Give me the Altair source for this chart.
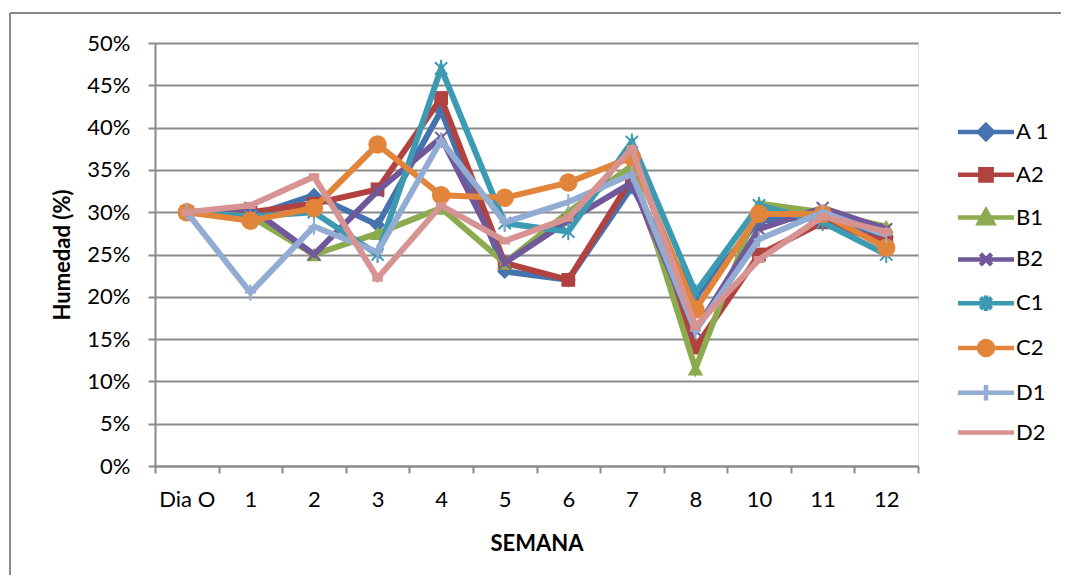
import altair as alt
import pandas as pd

semanas = ["Dia O", "1", "2", "3", "4", "5", "6", "7", "8", "10", "11", "12"]
series = ["A 1", "A2", "B1", "B2", "C1", "C2", "D1", "D2"]

a1 = [30, 29.5, 32, 28.5, 42, 23, 22, 33, 20, 29, 29.5, 27]
a2 = [30, 30, 31, 32.7, 43.5, 24, 22, 34, 14, 25, 28.8, 26.5]
b1 = [30, 29.5, 25, 27.5, 30.5, 24, 30, 35.5, 11.5, 31, 30, 28.3]
b2 = [30, 30.5, 25, 32.5, 38.8, 24, 29, 33.5, 16, 28, 30.5, 28]
c1 = [30, 29.5, 30, 25, 47, 28.7, 27.7, 38.3, 20.5, 30.8, 28.8, 25]
c2 = [30, 29, 30.5, 38, 32, 31.7, 33.5, 36.5, 18.5, 29.8, 29.8, 25.8]
d1 = [30, 20.5, 28.3, 25.3, 38.5, 28.8, 31.2, 34.5, 16, 26.8, 30, 27.3]
d2 = [30, 30.8, 34.2, 22.2, 30.8, 26.6, 29.3, 37.5, 16.5, 24.4, 29.5, 27.7]
valores = [a1, a2, b1, b2, c1, c2, d1, d2]

colores = ["#4573B0", "#B2423F", "#8BAB4E", "#71589A", "#3D9AB3", "#E2853A", "#93ACD4", "#D79391"]

rows = []
for s, vals in zip(series, valores):
    for w, v in zip(semanas, vals):
        rows.append({"semana": w, "serie": s, "valor": v / 100.0})
df = pd.DataFrame(rows)

FONT = "Lato"
GRAY = "#8A8A8A"

x_enc = alt.X(
    "semana:N",
    sort=semanas,
    scale=alt.Scale(type="band", domain=semanas, paddingInner=0, paddingOuter=0),
    axis=alt.Axis(
        title="SEMANA", labelAngle=0, grid=False, tickBand="extent",
        tickSize=7, tickColor=GRAY, tickWidth=2, domainColor=GRAY, domainWidth=2,
        labelFont=FONT, labelFontSize=22, labelColor="black", labelPadding=16,
        titleFont=FONT, titleFontSize=22, titleFontWeight="bold", titleColor="black",
        titleX=381.5, titleY=77, titleBaseline="middle", titleAlign="center",
    ),
)
y_enc = alt.Y(
    "valor:Q",
    scale=alt.Scale(domain=[0, 0.5], nice=False, zero=True),
    axis=alt.Axis(
        title="Humedad (%)", format=".0%", values=[i * 0.05 for i in range(11)],
        grid=True, gridColor=GRAY, gridWidth=2,
        tickSize=7, tickColor=GRAY, tickWidth=2, domainColor=GRAY, domainWidth=2,
        labelFont=FONT, labelFontSize=22, labelColor="black", labelPadding=18,
        titleFont=FONT, titleFontSize=22, titleFontWeight="bold", titleColor="black",
        titleX=-93, titleY=211.5, titleAngle=-90, titleBaseline="middle", titleAlign="center",
    ),
)

marker_specs = [
    dict(shape="diamond", size=230, filled=True, strokeWidth=1),
    dict(shape="square", size=190, filled=True, strokeWidth=1),
    dict(shape="triangle-up", size=240, filled=True, strokeWidth=1),
    dict(shape="M-1,-1L1,1M-1,1L1,-1", size=140, filled=False, strokeWidth=2),
    dict(shape="M-1,-1L1,1M-1,1L1,-1M0,-1.4L0,1.4", size=150, filled=False, strokeWidth=2),
    dict(shape="circle", size=340, filled=True, strokeWidth=1),
    dict(shape="M0,-1L0,1M-0.7,0L0.7,0", size=260, filled=False, strokeWidth=2),
    dict(shape="M-1,0L1,0", size=110, filled=False, strokeWidth=7),
]

base = alt.Chart(df)
layers = []
for s, c, m in zip(series, colores, marker_specs):
    sub = base.transform_filter(alt.datum.serie == s)
    layers.append(sub.mark_line(color=c, strokeWidth=6).encode(x=x_enc, y=y_enc))
    layers.append(
        sub.mark_point(color=c, opacity=1, **m).encode(x=x_enc, y=y_enc)
    )

legend_paths = [
    "M-4,0L4,0M0,-1L1,0L0,1L-1,0Z",
    "M-4,0L4,0M-0.8,-0.8L0.8,-0.8L0.8,0.8L-0.8,0.8Z",
    "M-4,0L4,0M0,-1L1,0.8L-1,0.8Z",
    "M-4,0L4,0M-0.8,-0.8L0.8,0.8M-0.8,0.8L0.8,-0.8",
    "M-4,0L4,0M-0.8,-0.8L0.8,0.8M-0.8,0.8L0.8,-0.8M0,-1.1L0,1.1",
    "M-4,0L4,0M-1,0A1,1,0,1,0,1,0A1,1,0,1,0,-1,0Z",
    "M-4,0L4,0M0,-1.1L0,1.1",
    "M-4,0L4,0",
]
leg = alt.Legend(
    title=None, orient="none", legendX=820, legendY=78, padding=0,
    symbolSize=196, symbolStrokeWidth=4.5, symbolOpacity=1,
    labelFont=FONT, labelFontSize=22, labelColor="black", labelOffset=19,
    rowPadding=11.8,
)
legend_layer = base.transform_filter("false").mark_point(filled=True, strokeWidth=4.5, size=196).encode(
    x=x_enc,
    y=y_enc,
    shape=alt.Shape("serie:N", scale=alt.Scale(domain=series, range=legend_paths), legend=leg),
    fill=alt.Fill("serie:N", scale=alt.Scale(domain=series, range=colores), legend=leg),
    stroke=alt.Stroke("serie:N", scale=alt.Scale(domain=series, range=colores), legend=leg),
)

frame = base.mark_rule(color=GRAY, strokeWidth=2).encode(
    x=alt.value(-145), y=alt.value(-30), y2=alt.value(532)
)
frame_top = base.mark_rule(color=GRAY, strokeWidth=2).encode(
    x=alt.value(-145), x2=alt.value(920), y=alt.value(-30)
)

chart = alt.layer(frame, frame_top, *layers, legend_layer).properties(
    width=763,
    height=423,
    autosize=alt.AutoSizeParams(type="none"),
    padding={"left": 147, "top": 35, "right": 143, "bottom": 109},
).configure_view(stroke=None).configure(background="white")

chart.save("out.html", embed_options={"renderer": "svg", "actions": False})
